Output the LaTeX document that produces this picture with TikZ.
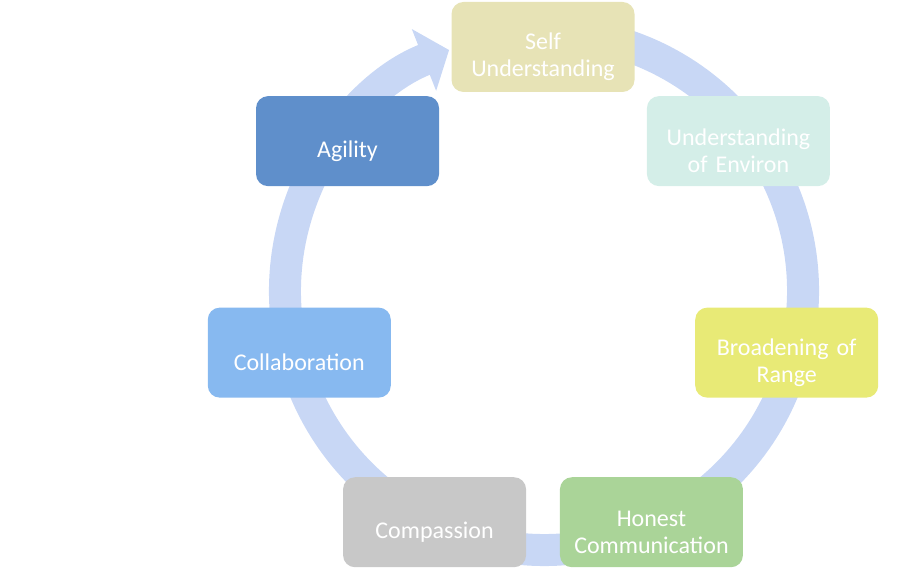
\documentclass[tikz,border=0pt]{standalone}
\usepackage{fontspec}
\setmainfont{Carlito}
\usepackage{xcolor}
\usepackage{tikz}
\usetikzlibrary{calc,arrows.meta}

\definecolor{ringblue}{RGB}{200,215,245}
\definecolor{selfcol}{RGB}{231,227,182}
\definecolor{environcol}{RGB}{212,238,232}
\definecolor{rangecol}{RGB}{232,234,118}
\definecolor{honestcol}{RGB}{170,212,152}
\definecolor{compassioncol}{RGB}{200,200,200}
\definecolor{collabcol}{RGB}{135,185,240}
\definecolor{agilitycol}{RGB}{95,143,203}

\begin{document}
\begin{tikzpicture}[x=1pt,y=1pt,
		stage/.style={rounded corners=12pt, minimum width=183pt, minimum height=90pt,
			inner sep=0pt},
		caption/.style={text width=178pt, align=center, inner sep=0pt, text=white,
			font=\fontsize{24}{27}\selectfont, yshift=-10pt},
		ring/.style={line width=32pt, color=ringblue,
			-{Triangle[width=65pt,length=27pt]}}
	]
		\useasboundingbox (0,0) rectangle (911,586);
		\coordinate (c) at (543,289);
		\coordinate (rc) at (544,295);
		% the cycle
		\draw[ring] ($(rc)+(80:259)$) arc[start angle=80, end angle=-248.5, radius=259];
		% the stages
		\node[stage, fill=selfcol, label={[caption]center:Self\\Understanding}] (self) at ($(c)+(90:250)$) {};
		\node[stage, fill=environcol, label={[caption]center:Understanding\\of Environ}] (environ) at ($(c)+(38.57:250)$) {};
		\node[stage, fill=rangecol, label={[caption]center:Broadening of\\Range}] (range) at ($(c)+(-12.86:250)$) {};
		\node[stage, fill=honestcol, label={[caption]center:Honest\\Communication}] (honest) at ($(c)+(-64.29:250)$) {};
		\node[stage, fill=compassioncol, label={[caption]center:Compassion}] (compassion) at ($(c)+(-115.71:250)$) {};
		\node[stage, fill=collabcol, label={[caption]center:Collaboration}] (collab) at ($(c)+(-167.14:250)$) {};
		\node[stage, fill=agilitycol, label={[caption]center:Agility}] (agility) at ($(c)+(141.43:250)$) {};
	\end{tikzpicture}
\end{document}
